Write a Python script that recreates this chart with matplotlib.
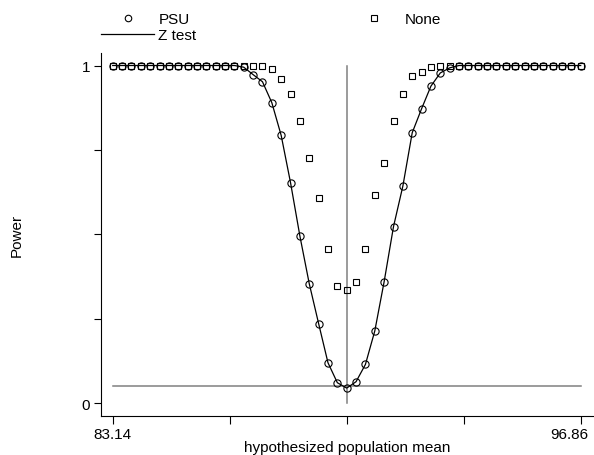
import matplotlib.pyplot as plt
import matplotlib.transforms as mtransforms
import numpy as np

plt.rcParams['font.family'] = ['Liberation Sans', 'DejaVu Sans']
plt.rcParams['font.size'] = 11

# hypothesized means: 51 points from 83.14 to 96.86
x_lo, x_hi, n_pts = 83.14, 96.86, 51
mu = np.linspace(x_lo, x_hi, n_pts)
null_mean = 90
alpha = 0.05

# power, index 0..50
psu = [1, 1, 1, 1, 1, 1, 1, 1, 1, 1, 1, 1, 1, 1,
       0.995, 0.973, 0.952, 0.89, 0.793, 0.653, 0.495, 0.354, 0.236, 0.12, 0.061,
       0.045,
       0.064, 0.115, 0.214, 0.36, 0.523, 0.643, 0.801, 0.872, 0.939, 0.978, 0.993,
       1, 1, 1, 1, 1, 1, 1, 1, 1, 1, 1, 1, 1, 1]
none = [1, 1, 1, 1, 1, 1, 1, 1, 1, 1, 1, 1, 1, 1, 1, 1, 1,
        0.99, 0.96, 0.916, 0.837, 0.727, 0.608, 0.456, 0.348,
        0.336,
        0.359, 0.456, 0.618, 0.712, 0.837, 0.916, 0.97, 0.98, 0.995,
        1, 1, 1, 1, 1, 1, 1, 1, 1, 1, 1, 1, 1, 1, 1, 1]
ztest = psu

W, H = 594, 456
fig = plt.figure(figsize=(W/100, H/100), dpi=100)
# axes box in pixels: left 101, right 594, top 54, bottom 417
ax = fig.add_axes([101.3/W, 1 - 417.3/H, (W - 101.3)/W, (417.3 - 54)/H])

ax.plot([x_lo, x_hi], [alpha, alpha], color='#808080', lw=1.1, zorder=1)
ax.plot([null_mean, null_mean], [0, 1], color='#808080', lw=1.1, zorder=1)

h_z, = ax.plot(mu, ztest, color='black', lw=0.9, zorder=2, label='Z test')
h_psu, = ax.plot(mu, psu, 'o', ms=5.2, mfc='none', mec='black', mew=0.8, zorder=3, label='PSU')
h_none, = ax.plot(mu, none, 's', ms=4.8, mfc='none', mec='black', mew=0.8, zorder=3, label='None')

px_per_x = 468 / (x_hi - x_lo)
ax.set_xlim(x_lo - 11.4/px_per_x, x_hi + 13.3/px_per_x)
ax.set_ylim(-13/337.8, 1 + 12.5/337.8)

ax.set_xticks(np.linspace(x_lo, x_hi, 5))
ax.set_xticklabels(['83.14', '', '', '', '96.86'])
ax.set_yticks([0, 0.25, 0.5, 0.75, 1])
ax.set_yticklabels(['0', '', '', '', '1'])
ax.tick_params(axis='x', direction='out', length=5.5, width=0.8, pad=2)
ax.tick_params(axis='y', direction='out', length=5, width=0.8, pad=3)
for s in ['top', 'right']:
    ax.spines[s].set_visible(False)
ax.spines['left'].set_linewidth(0.8)
ax.spines['bottom'].set_linewidth(0.8)

# last tick label pulled in so it stays inside the figure
last = ax.get_xticklabels()[-1]
last.set_transform(last.get_transform() + mtransforms.ScaledTranslation(-8/72, 0, fig.dpi_scale_trans))

ax.set_xlabel('hypothesized population mean')
ax.xaxis.set_label_coords(0.5, (417.3 - 441) / 363.3)
ax.set_ylabel('Power')
ax.yaxis.set_label_coords((24 - 101.3) / 492.7, 0.5)

leg = fig.legend(handles=[h_psu, h_z, h_none], ncol=2, loc='upper left',
                 bbox_to_anchor=(101/W, 1 - 13.5/H), frameon=False,
                 handlelength=3.5, handletextpad=0.26, columnspacing=9.86,
                 labelspacing=0.1, borderpad=0, borderaxespad=0, markerscale=0.9)

fig.savefig('out.png', dpi=100)
